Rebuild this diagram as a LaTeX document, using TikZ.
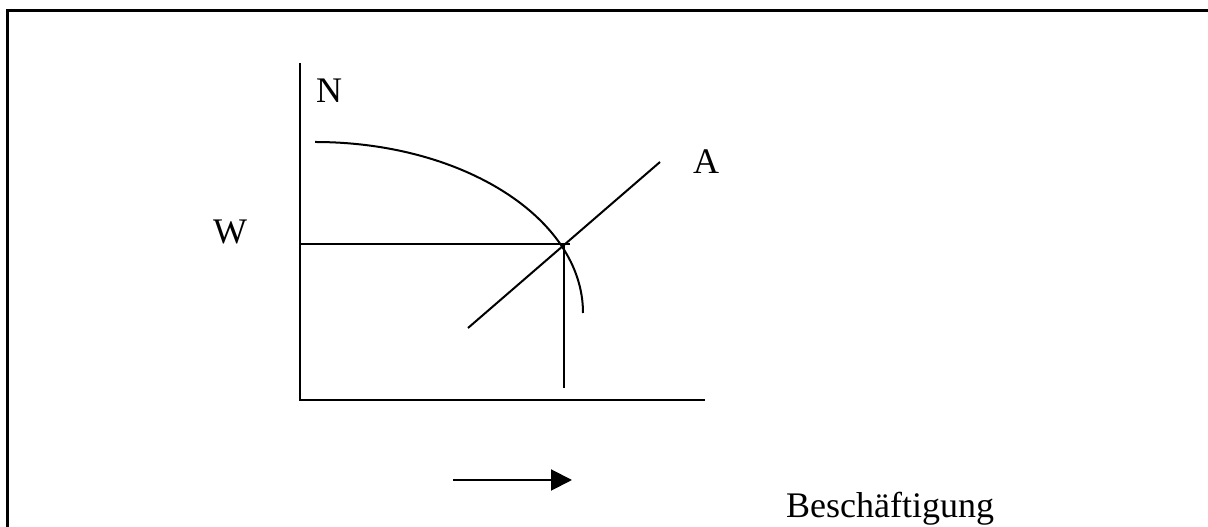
\documentclass[tikz,border=0pt]{standalone}
\usepackage{fontspec}
\setmainfont{Liberation Serif}
\usetikzlibrary{arrows.meta,positioning,calc}

\begin{document}
\begin{tikzpicture}[x=1pt, y=1pt,
    curve/.style={line width=2pt},
    label/.style={font=\fontsize{36}{40}\selectfont, inner sep=0pt, anchor=base}]
    \useasboundingbox (0, 0) rectangle (1208, 527);

    % Frame (only top and left edge visible)
    \draw[line width=3pt] (7, 0) -- (7, 516) -- (1208, 516);

    % Axes
    \coordinate (O) at (300, 127);
    \coordinate (ytop) at (300, 464);
    \coordinate (xend) at (705, 127);
    \draw[curve] (ytop) -- (O) -- (xend);

    % Curve N
    \coordinate (nstart) at (315, 385);
    \draw[curve] (nstart) arc[start angle=90, end angle=0, x radius=268, y radius=171];

    % Line A
    \coordinate (alow) at (468, 199);
    \coordinate (ahigh) at (660, 365);
    \draw[curve] (alow) -- (ahigh);

    % Equilibrium lines
    \coordinate (eq) at (564, 283);
    \coordinate (wleft) at (300, 283);
    \coordinate (wright) at (570, 283);
    \coordinate (eqdown) at (564, 139);
    \draw[curve] (wleft) -- (wright);
    \draw[curve] (eq) -- (eqdown);

    % Labels
    \node[label] (N) at (329, 424) {N};
    \node[label] (A) at (706, 353) {A};
    \node[label] (W) at (230, 283) {W};

    % Arrow and caption
    \coordinate (arrstart) at (453, 47);
    \coordinate (arrend) at (572, 47);
    \draw[curve, -{Triangle[length=21pt, width=21pt]}] (arrstart) -- (arrend);
    \node[label, anchor=base west] (besch) at (786, 9) {Beschäftigung};
\end{tikzpicture}
\end{document}
